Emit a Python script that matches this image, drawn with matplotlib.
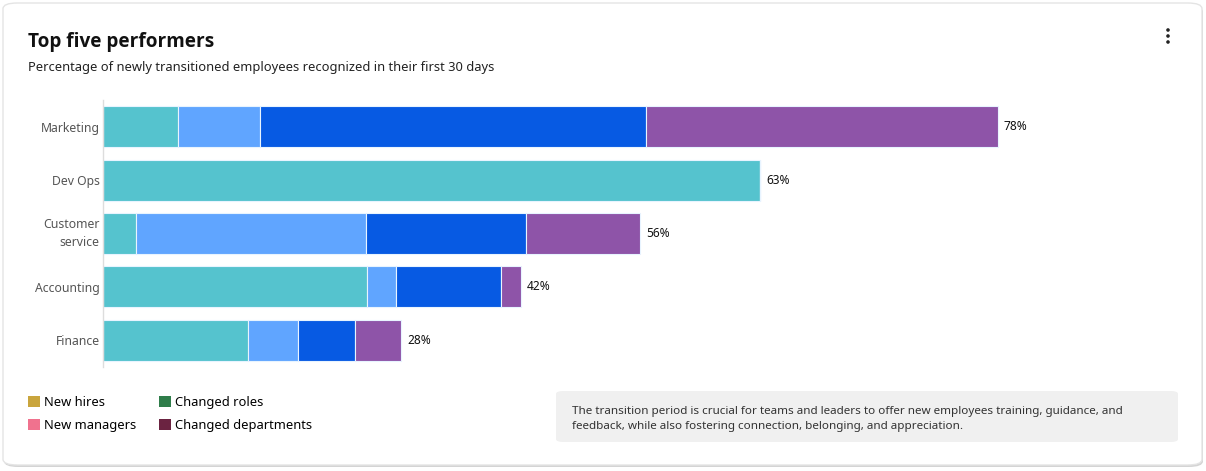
import matplotlib
matplotlib.use("Agg")
import matplotlib.pyplot as plt
from matplotlib.patches import FancyBboxPatch, Patch, Ellipse
import numpy as np

plt.rcParams['font.family'] = ['Noto Sans', 'DejaVu Sans']

categories = ["Marketing", "Dev Ops", "Customer\nservice", "Accounting", "Finance"]
series_names = ["New hires", "New managers", "Changed roles", "Changed departments"]
seg1 = [6.5, 57.3, 2.9, 23.0, 12.6]
seg2 = [7.2, 0.0, 20.0, 2.5, 4.4]
seg3 = [33.6, 0.0, 14.0, 9.2, 5.0]
seg4 = [30.7, 0.0, 9.9, 1.7, 4.0]
total_labels = ["78%", "63%", "56%", "42%", "28%"]

bar_colors = ["#55C3CE", "#60A5FF", "#075AE3", "#8E54A8"]
legend_colors = ["#C9A53D", "#F0728E", "#2F7D4A", "#6B2341"]

W, H = 1206, 471
fig = plt.figure(figsize=(W / 100, H / 100), dpi=100)

def fx(x):
    return x / W

def fy(y):
    return 1 - y / H

# card
shadow = FancyBboxPatch((fx(4), fy(467)), fx(1199), (465 - 4) / H,
                        boxstyle="round,pad=0,rounding_size=0.012",
                        transform=fig.transFigure, facecolor="#d4d4d4",
                        edgecolor="none", zorder=-3)
fig.patches.append(shadow)
card = FancyBboxPatch((fx(3), fy(465)), fx(1199), (465 - 3) / H,
                      boxstyle="round,pad=0,rounding_size=0.012",
                      transform=fig.transFigure, facecolor="white",
                      edgecolor="#e4e4e4", linewidth=1, zorder=-2)
fig.patches.append(card)

fig.text(fx(28), fy(41.5), "Top five performers", fontsize=13.7, fontweight="bold",
         family=["Open Sans", "DejaVu Sans"],
         color="#111111", va="center", ha="left")
fig.text(fx(28), fy(68), "Percentage of newly transitioned employees recognized in their first 30 days",
         fontsize=9.3, color="#222222", va="center", ha="left")

# kebab menu
for yy in (30, 36, 42):
    fig.patches.append(Ellipse((fx(1168), fy(yy)), 3.6 / W, 3.6 / H, transform=fig.transFigure,
                               facecolor="#222222", edgecolor="none"))

ax_left, ax_right, ax_top, ax_bot = 103, 1180, 100, 367
ax = fig.add_axes([fx(ax_left), fy(ax_bot), (ax_right - ax_left) / W, (ax_bot - ax_top) / H])
px_per_unit = 895 / 78.0
ax.set_xlim(0, (ax_right - ax_left) / px_per_unit)
ax.set_ylim(4.5, -0.5)

y = np.arange(len(categories))
left = np.zeros(len(categories))
for vals, col in zip([seg1, seg2, seg3, seg4], bar_colors):
    v = np.array(vals)
    ax.barh(y, v, left=left, height=0.77, color=col, edgecolor="#e8f4ff",
            linewidth=0.8, zorder=2)
    left = left + v

for yi, tot, lab in zip(y, left, total_labels):
    ax.text(tot + 0.5, yi, lab, va="center", ha="left", fontsize=8.6, color="#111111")

ax.set_yticks(y)
ax.set_yticklabels(categories, fontsize=8.8, color="#555555", linespacing=1.45)
ax.tick_params(axis="y", length=0, pad=2.5)
for t in ax.get_yticklabels():
    if "\n" in t.get_text():
        t.set_verticalalignment("center")
ax.set_xticks([])
for s in ["top", "right", "bottom"]:
    ax.spines[s].set_visible(False)
ax.spines["left"].set_color("#dddddd")
ax.spines["left"].set_linewidth(1)
ax.patch.set_alpha(0)

handles = [Patch(facecolor=c, edgecolor="none") for c in legend_colors]
fig.legend(handles, series_names, loc="upper left", bbox_to_anchor=(fx(23), fy(391)),
           ncol=2, frameon=False, fontsize=9.3, handlelength=0.9, handleheight=0.9,
           handletextpad=0.33, columnspacing=1.75, labelspacing=0.75, borderaxespad=0)

note = FancyBboxPatch((fx(556), fy(442)), fx(1178 - 556), (442 - 391) / H,
                      boxstyle="round,pad=0,rounding_size=0.006",
                      transform=fig.transFigure, facecolor="#f0f0f0",
                      edgecolor="none", zorder=-1)
fig.patches.append(note)
fig.text(fx(572), fy(419), "The transition period is crucial for teams and leaders to offer new employees training, guidance, and\n"
         "feedback, while also fostering connection, belonging, and appreciation.",
         fontsize=8.4, color="#333333", va="center", ha="left", linespacing=1.6)

fig.savefig("out.png", dpi=100)
